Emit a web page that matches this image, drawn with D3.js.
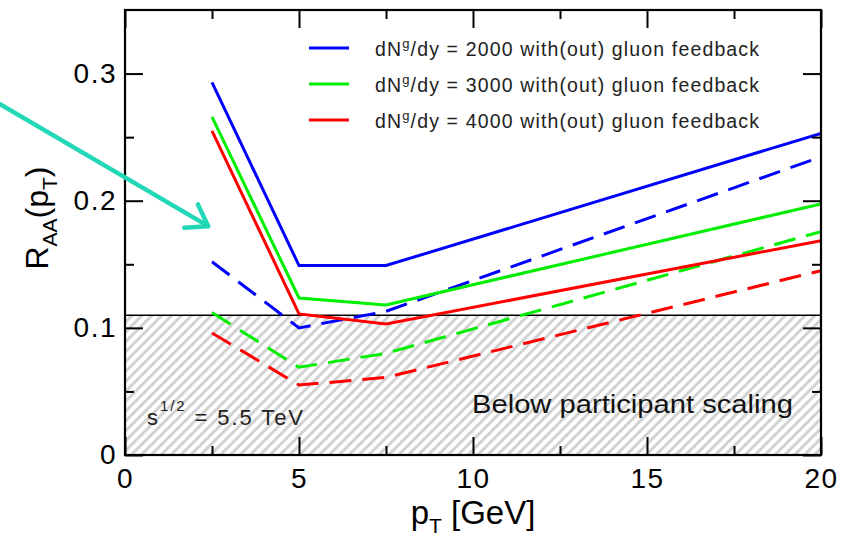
<!DOCTYPE html>
<html>
<head>
<meta charset="utf-8">
<script src="https://cdn.jsdelivr.net/npm/d3@7/dist/d3.min.js"></script>
<style>
  html, body { margin: 0; padding: 0; background: #fff; }
  svg { display: block; font-family: "Liberation Sans", Arial, Helvetica, sans-serif; }
</style>
</head>
<body>
<svg id="chart" width="860" height="537"></svg>
<script>
// ---- data ----
const pT = [2.5, 5, 7.5, 20];
const withFeedback = {
  2000: [0.293, 0.149, 0.149, 0.253],
  3000: [0.266, 0.1235, 0.118, 0.1975],
  4000: [0.255, 0.111, 0.103, 0.1686]
};
const withoutFeedback = {
  2000: [0.152, 0.100, 0.113, 0.2345],
  3000: [0.112, 0.069, 0.080, 0.1757],
  4000: [0.096, 0.055, 0.061, 0.145]
};
const multiplicities = [2000, 3000, 4000];
const seriesColors = ["#0000ff", "#00ee00", "#ff0000"];
const xMajorTicks = [0, 5, 10, 15, 20];
const xMinorTicks = [2.5, 7.5, 12.5, 17.5];
const yMajorTicks = [0, 0.1, 0.2, 0.3];
const yMinorTicks = [0.05, 0.15, 0.25];
const participantLevel = 0.11;
const arrowFrom = [-3.59, 0.276];
const arrowTo = [2.39, 0.180];

// ---- layout ----
const svg = d3.select("#chart");
const L = 125, R = 821, T = 10, B = 455;
const x = d3.scaleLinear().domain([0, 20]).range([L, R]);
const y = d3.scaleLinear().domain([0, 0.35]).range([B, T]);

// hatch pattern
const defs = svg.append("defs");
const pat = defs.append("pattern")
  .attr("id", "hatch").attr("patternUnits", "userSpaceOnUse")
  .attr("width", 7).attr("height", 7)
  .attr("patternTransform", "rotate(45)");
pat.append("rect").attr("width", 7).attr("height", 7).attr("fill", "#ffffff");
pat.append("rect").attr("x", 0).attr("width", 3).attr("height", 7).attr("fill", "#d2d2d2");

defs.append("clipPath").attr("id", "plotclip")
  .append("rect").attr("x", L).attr("y", T).attr("width", R - L).attr("height", B - T);

// hatched region below participant scaling
svg.append("rect")
  .attr("x", x(0)).attr("y", y(participantLevel))
  .attr("width", x(20) - x(0)).attr("height", y(0) - y(participantLevel))
  .attr("fill", "url(#hatch)");
svg.append("line")
  .attr("x1", x(0)).attr("x2", x(20))
  .attr("y1", y(participantLevel)).attr("y2", y(participantLevel))
  .attr("stroke", "#000").attr("stroke-width", 1.5);

// curves
const line = d3.line().x((d, i) => x(pT[i])).y(d => y(d));
const g = svg.append("g").attr("clip-path", "url(#plotclip)");
multiplicities.forEach((m, k) => {
  g.append("path").datum(withoutFeedback[m])
    .attr("d", line).attr("fill", "none")
    .attr("stroke", seriesColors[k]).attr("stroke-width", 3)
    .attr("stroke-dasharray", "22,11");
  g.append("path").datum(withFeedback[m])
    .attr("d", line).attr("fill", "none")
    .attr("stroke", seriesColors[k]).attr("stroke-width", 3)
    .attr("stroke-linejoin", "miter");
});

// axes (ticks inward on all four sides)
function styleAxis(sel) {
  sel.select(".domain").remove();
  sel.selectAll(".tick line").attr("stroke", "#000").attr("stroke-width", 2);
  sel.selectAll(".tick text").attr("fill", "#000")
    .style("font-size", "28px").style("letter-spacing", "1.5px");
}
const fmtY = d => d === 0 ? "0" : d3.format(".1f")(d);
svg.append("g").attr("transform", `translate(0,${B})`)
  .call(d3.axisBottom(x).tickValues(xMajorTicks).tickSize(-18).tickPadding(13).tickFormat(d3.format("d")))
  .call(styleAxis);
svg.append("g").attr("transform", `translate(0,${B})`)
  .call(d3.axisBottom(x).tickValues(xMinorTicks).tickSize(-9).tickFormat(""))
  .call(styleAxis);
svg.append("g").attr("transform", `translate(0,${T})`)
  .call(d3.axisTop(x).tickValues(xMajorTicks).tickSize(-18).tickFormat(""))
  .call(styleAxis);
svg.append("g").attr("transform", `translate(0,${T})`)
  .call(d3.axisTop(x).tickValues(xMinorTicks).tickSize(-9).tickFormat(""))
  .call(styleAxis);
svg.append("g").attr("transform", `translate(${L},0)`)
  .call(d3.axisLeft(y).tickValues(yMajorTicks).tickSize(-18).tickPadding(8).tickFormat(fmtY))
  .call(styleAxis);
svg.append("g").attr("transform", `translate(${L},0)`)
  .call(d3.axisLeft(y).tickValues(yMinorTicks).tickSize(-9).tickFormat(""))
  .call(styleAxis);
svg.append("g").attr("transform", `translate(${R},0)`)
  .call(d3.axisRight(y).tickValues(yMajorTicks).tickSize(-18).tickFormat(""))
  .call(styleAxis);
svg.append("g").attr("transform", `translate(${R},0)`)
  .call(d3.axisRight(y).tickValues(yMinorTicks).tickSize(-9).tickFormat(""))
  .call(styleAxis);

// frame
svg.append("rect").attr("x", L).attr("y", T).attr("width", R - L).attr("height", B - T)
  .attr("fill", "none").attr("stroke", "#000").attr("stroke-width", 2.2);

// axis titles
const xt = svg.append("text").attr("x", (L + R) / 2).attr("y", 524)
  .attr("text-anchor", "middle").style("font-size", "33px").attr("fill", "#000");
xt.append("tspan").text("p");
xt.append("tspan").text("T").style("font-size", "21px").attr("dy", 9);
xt.append("tspan").text(" [GeV]").attr("dy", -9);

const yt = svg.append("text").attr("transform", `translate(48,${218}) rotate(-90)`)
  .attr("text-anchor", "middle").style("font-size", "32px").attr("fill", "#000");
yt.append("tspan").text("R");
yt.append("tspan").text("AA").style("font-size", "21px").attr("dy", 9);
yt.append("tspan").text("(p").attr("dy", -9);
yt.append("tspan").text("T").style("font-size", "21px").attr("dy", 9);
yt.append("tspan").text(")").attr("dy", -9);

// legend
const legend = svg.append("g");
multiplicities.forEach((m, k) => {
  const ly = 48 + k * 36;
  legend.append("line").attr("x1", 309).attr("x2", 349).attr("y1", ly).attr("y2", ly)
    .attr("stroke", seriesColors[k]).attr("stroke-width", 3);
  const t = legend.append("text").attr("x", 375).attr("y", ly + 8)
    .style("font-size", "19.5px").attr("fill", "#222")
    .attr("textLength", 384).attr("lengthAdjust", "spacing");
  t.append("tspan").text("dN");
  t.append("tspan").text("g").style("font-size", "13px").attr("dy", -8);
  t.append("tspan").text(`/dy = ${m} with(out) gluon feedback`).attr("dy", 8);
});

// annotations
const st = svg.append("text").attr("x", 147).attr("y", 425)
  .style("font-size", "22px").attr("fill", "#222")
  .attr("textLength", 156).attr("lengthAdjust", "spacing");
st.append("tspan").text("s");
st.append("tspan").text("1/2").style("font-size", "15px").attr("dy", -14);
st.append("tspan").text(" = 5.5 TeV").attr("dy", 14);

svg.append("text").attr("x", 472).attr("y", 413)
  .style("font-size", "25px").attr("fill", "#111")
  .attr("textLength", 321).attr("lengthAdjust", "spacingAndGlyphs")
  .text("Below participant scaling");

// arrow
const ax0 = x(arrowFrom[0]), ay0 = y(arrowFrom[1]);
const ax1 = x(arrowTo[0]), ay1 = y(arrowTo[1]);
const ang = Math.atan2(ay1 - ay0, ax1 - ax0);
const hl = 24, ha = 0.6;
const arrowColor = "#22d8b6";
svg.append("line").attr("x1", ax0).attr("y1", ay0).attr("x2", ax1).attr("y2", ay1)
  .attr("stroke", arrowColor).attr("stroke-width", 4.5).attr("stroke-linecap", "round");
svg.append("path")
  .attr("d", `M${ax1 - hl * Math.cos(ang - ha)},${ay1 - hl * Math.sin(ang - ha)} L${ax1},${ay1} L${ax1 - hl * Math.cos(ang + ha)},${ay1 - hl * Math.sin(ang + ha)}`)
  .attr("fill", "none").attr("stroke", arrowColor).attr("stroke-width", 4.5)
  .attr("stroke-linecap", "round").attr("stroke-linejoin", "round");
</script>
</body>
</html>
